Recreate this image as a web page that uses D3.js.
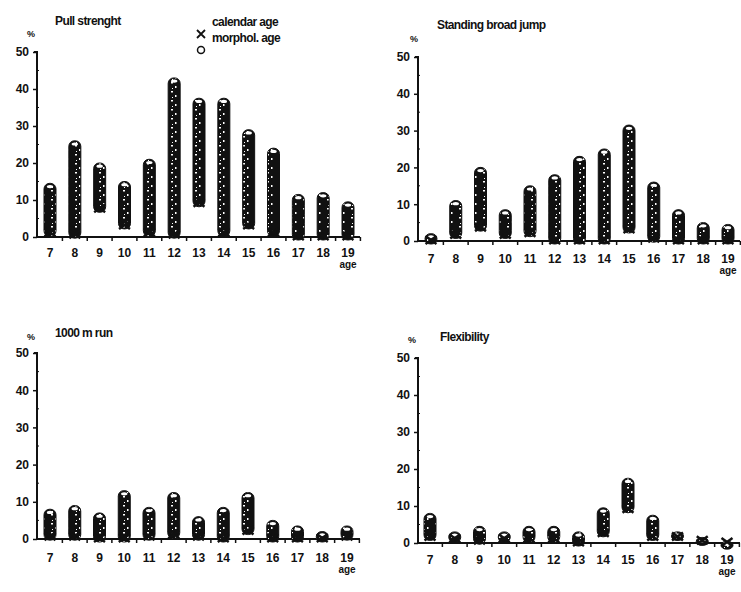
<!DOCTYPE html>
<html><head><meta charset="utf-8">
<script src="https://cdn.jsdelivr.net/npm/d3@7"></script>
<style>
body{margin:0;background:#fff;}
svg text{font-family:"Liberation Sans",Arial,sans-serif;font-weight:bold;fill:#111;}
</style></head>
<body><svg id="c" width="741" height="592"></svg>
<script>
const ages = [7,8,9,10,11,12,13,14,15,16,17,18,19];
const yTicks = [0,10,20,30,40,50];
const titles = ["Pull strenght","Standing broad jump","1000 m run","Flexibility"];
// top (o) and bottom (x) values of each column, %
const pullHigh = [14.5,26,20,15,21,43,37.5,37.5,29,24,11.5,12,9.5];
const pullLow  = [1,0.5,7.5,3,1,0.5,9,1,3,1,0,0,0];
const jumpHigh = [2,11,20,8.5,15,18,23,25,31.5,16,8.5,5,4.5];
const jumpLow  = [0,1.5,3.5,1.5,2,0,0,0,3,0.5,0,0,0];
const runHigh  = [8,9,7,13,8.5,12.5,6,8.5,12.5,5,3.5,2,3.5];
const runLow   = [0.5,0.5,0,0,0.5,1,0.5,0,2,0,0,0,0.5];
const flexHigh = [8,3,4.5,3,4.5,4.5,3,9.5,17.5,7.5,3,1.5,0.5];
const flexLow  = [1.5,1,0.5,1,1,1,0,2.5,9,1.5,1.5,0.5,0];
const legendLabels = ["calendar age","morphol. age"];

const panels = [
  {title:titles[0], hi:pullHigh, lo:pullLow, ax:37, y0:237, y50:52, x7:50, x19:348, end:360, tx:55, ty:25, px:27, py:37, lab:257, legend:true},
  {title:titles[1], hi:jumpHigh, lo:jumpLow, ax:418, y0:241, y50:57, x7:431, x19:728, end:740, tx:437, ty:29, px:410, py:42, lab:263},
  {title:titles[2], hi:runHigh, lo:runLow, ax:37, y0:539, y50:353, x7:50, x19:347, end:360, tx:55, ty:337, px:27, py:340, lab:562},
  {title:titles[3], hi:flexHigh, lo:flexLow, ax:418, y0:543, y50:358, x7:430, x19:727, end:740, tx:440, ty:341, px:408, py:343, lab:564}
];

const svg = d3.select("#c");
const defs = svg.append("defs");
const pat = defs.append("pattern").attr("id","speck").attr("patternUnits","userSpaceOnUse").attr("width",12).attr("height",9);
pat.append("rect").attr("width",12).attr("height",9).attr("fill","#111");
pat.append("rect").attr("x",3).attr("y",1).attr("width",2).attr("height",1.5).attr("fill","#fff");
pat.append("rect").attr("x",7).attr("y",5).attr("width",1.5).attr("height",2).attr("fill","#fff");
pat.append("rect").attr("x",4).attr("y",7).attr("width",1).attr("height",1).attr("fill","#fff");

panels.forEach(p => {
  const g = svg.append("g");
  const x = d3.scalePoint().domain(ages).range([p.x7, p.x19]);
  const y = d3.scaleLinear().domain([0,50]).range([p.y0, p.y50]);
  // y axis
  const ya = g.append("g").attr("transform",`translate(${p.ax},0)`)
    .call(d3.axisLeft(y).tickValues(yTicks).tickSize(4).tickPadding(4).tickFormat(d3.format("d")));
  ya.select(".domain").attr("stroke","#111").attr("stroke-width",2).attr("d",`M-3,${p.y50}H0V${p.y0}`);
  ya.selectAll(".tick line").attr("stroke","#111").attr("stroke-width",1.5);
  ya.selectAll("text").attr("font-size",12).attr("font-family","Liberation Sans, Arial").attr("font-weight","bold").attr("fill","#111");
  // minor ticks
  g.selectAll(".minor").data(d3.range(5,50,10)).join("line")
    .attr("x1",p.ax).attr("x2",p.ax+2).attr("y1",d=>y(d)).attr("y2",d=>y(d)).attr("stroke","#111").attr("stroke-width",1);
  // x axis
  const step = x.step();
  g.append("line").attr("x1",p.ax).attr("x2",p.end).attr("y1",p.y0).attr("y2",p.y0).attr("stroke","#111").attr("stroke-width",2);
  g.selectAll(".xt").data(ages).join("line")
    .attr("x1",d=>x(d)+step/2).attr("x2",d=>x(d)+step/2).attr("y1",p.y0).attr("y2",p.y0+4).attr("stroke","#111").attr("stroke-width",1.5);
  g.selectAll(".xl").data(ages).join("text")
    .attr("x",d=>x(d)).attr("y",p.lab).attr("text-anchor","middle").attr("font-size",12).text(d=>d);
  g.append("text").attr("x",x(19)).attr("y",p.lab+11).attr("text-anchor","middle").attr("font-size",10).text("age");
  // titles
  g.append("text").attr("x",p.tx).attr("y",p.ty).attr("font-size",12).attr("letter-spacing",-0.6).text(p.title);
  g.append("text").attr("x",p.px).attr("y",p.py).attr("font-size",9).text("%");
  // columns
  const cols = g.selectAll(".col").data(ages.map((a,i)=>({a,hi:p.hi[i],lo:p.lo[i]}))).join("g");
  cols.append("rect")
    .attr("x",d=>x(d.a)-6).attr("width",12)
    .attr("y",d=>y(d.hi)).attr("height",d=>Math.max(8,y(d.lo)-y(d.hi)+3))
    .attr("rx",5.5).attr("fill","url(#speck)").attr("stroke","#111").attr("stroke-width",1);
  cols.append("ellipse").attr("cx",d=>x(d.a)).attr("cy",d=>y(d.hi)+3.2).attr("rx",3.2).attr("ry",1.6).attr("fill","#fff");
  cols.append("path")
    .attr("d",d=>{const cx=x(d.a), cy=y(d.lo)-1; return `M${cx-5.5},${cy-4}L${cx+5.5},${cy+4}M${cx+5.5},${cy-4}L${cx-5.5},${cy+4}`;})
    .attr("stroke","#111").attr("stroke-width",2.5);
  // legend
  if (p.legend) {
    g.append("text").attr("x",212).attr("y",26).attr("font-size",12).attr("letter-spacing",-0.6).text(legendLabels[0]);
    g.append("text").attr("x",212).attr("y",42).attr("font-size",12).attr("letter-spacing",-0.6).text(legendLabels[1]);
    g.append("path").attr("d","M197,30L205,38M205,30L197,38").attr("stroke","#111").attr("stroke-width",1.8);
    g.append("circle").attr("cx",201).attr("cy",50).attr("r",3.5).attr("fill","none").attr("stroke","#111").attr("stroke-width",1.5);
  }
});
</script></body></html>
